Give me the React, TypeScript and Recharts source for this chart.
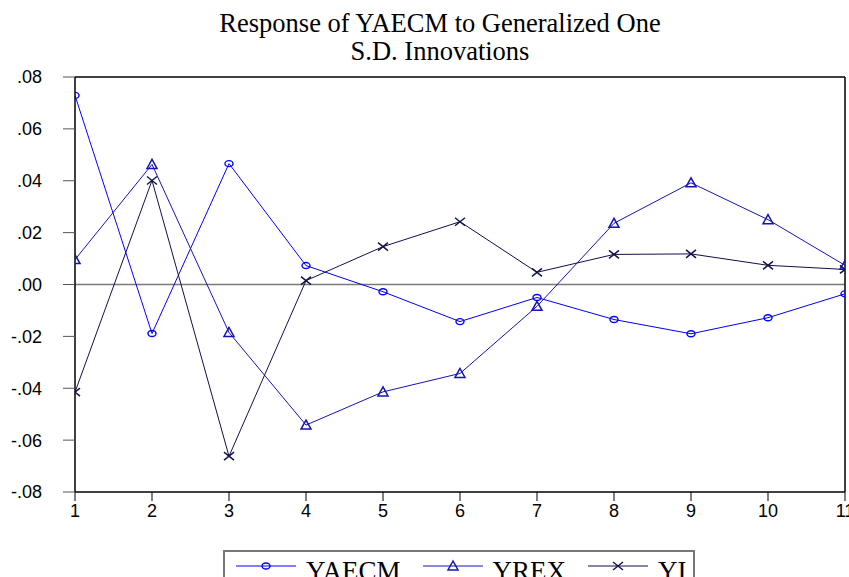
import React from 'react';
import { LineChart, Line, XAxis, YAxis, ReferenceLine } from 'recharts';

const periods = [1, 2, 3, 4, 5, 6, 7, 8, 9, 10, 11];
const yaecm = [0.0729, -0.0189, 0.0466, 0.0073, -0.0028, -0.0143, -0.005, -0.0135, -0.019, -0.0128, -0.0036];
const yrex = [0.0096, 0.0463, -0.0185, -0.0542, -0.0414, -0.0343, -0.0084, 0.0236, 0.0392, 0.025, 0.0074];
const yi = [-0.0415, 0.0401, -0.0662, 0.0015, 0.0146, 0.0242, 0.0047, 0.0116, 0.0118, 0.0074, 0.0058];
const yTicks = [-0.08, -0.06, -0.04, -0.02, 0, 0.02, 0.04, 0.06, 0.08];
const titleLines = ['Response of YAECM to Generalized One', 'S.D. Innovations'];

const seriesNames = ['YAECM', 'YREX', 'YI'];
const seriesColors = ['#0000FF', '#1414B4', '#10104A'];
const seriesMarkers = ['circle', 'triangle', 'cross'];

const data = periods.map((p, i) => ({ period: p, YAECM: yaecm[i], YREX: yrex[i], YI: yi[i] }));

const fmt = (v: number) => {
  if (Math.abs(v) < 1e-9) return '.00';
  const s = Math.abs(v).toFixed(2).replace(/^0/, '');
  return (v < 0 ? '-' : '') + s;
};

const Marker = ({ kind, cx, cy, color }: { kind: string; cx: number; cy: number; color: string }) => {
  if (kind === 'circle') {
    return <ellipse cx={cx} cy={cy} rx={4} ry={3} fill="none" stroke={color} strokeWidth={1.4} />;
  }
  if (kind === 'triangle') {
    return (
      <polygon
        points={`${cx},${cy - 5} ${cx - 5},${cy + 4} ${cx + 5},${cy + 4}`}
        fill="none"
        stroke={color}
        strokeWidth={1.5}
      />
    );
  }
  return (
    <g stroke={color} strokeWidth={1.5}>
      <line x1={cx - 5} y1={cy - 4} x2={cx + 5} y2={cy + 4} />
      <line x1={cx - 5} y1={cy + 4} x2={cx + 5} y2={cy - 4} />
    </g>
  );
};

const makeDot = (kind: string, color: string) => (props: any) => {
  const { cx, cy, index } = props;
  if (cx == null || cy == null) return <g key={index} />;
  return <Marker key={index} kind={kind} cx={cx} cy={cy} color={color} />;
};

export default function App() {
  return (
    <div style={{ position: 'absolute', left: 0, top: 0, width: 849, height: 577, background: '#fff', overflow: 'hidden' }}>
      <div
        style={{
          position: 'absolute',
          left: 190,
          width: 500,
          top: 9,
          textAlign: 'center',
          fontFamily: '"Liberation Serif", "Times New Roman", serif',
          fontSize: 26.5,
          lineHeight: '28px',
          color: '#000',
          whiteSpace: 'nowrap',
        }}
      >
        {titleLines.map((t) => (
          <div key={t}>{t}</div>
        ))}
      </div>
      <LineChart width={849} height={577} data={data} margin={{ top: 77, right: 4, bottom: 55, left: 0 }}>
        <XAxis
          dataKey="period"
          type="number"
          domain={[1, 11]}
          ticks={periods}
          allowDataOverflow
          height={30}
          tickSize={9}
          tickMargin={3}
          axisLine={{ stroke: '#000', strokeWidth: 1.5 }}
          tickLine={{ stroke: '#000', strokeWidth: 1 }}
          tick={{ fill: '#000', fontSize: 18, fontFamily: '"Liberation Sans", Arial, sans-serif' }}
          interval={0}
        />
        <YAxis
          type="number"
          domain={[-0.08, 0.08]}
          ticks={yTicks}
          allowDataOverflow
          width={75}
          tickSize={12}
          tickMargin={21}
          tickFormatter={fmt}
          axisLine={{ stroke: '#000', strokeWidth: 1.5 }}
          tickLine={{ stroke: '#555', strokeWidth: 1 }}
          tick={{ fill: '#000', fontSize: 18, fontFamily: '"Liberation Sans", Arial, sans-serif' }}
          interval={0}
        />
        <ReferenceLine y={0} stroke="#7a7a7a" strokeWidth={1.6} />
        <ReferenceLine y={0.08} stroke="#000" strokeWidth={1.5} />
        <ReferenceLine x={11} stroke="#000" strokeWidth={1.5} />
        {seriesNames.map((name, i) => (
          <Line
            key={name}
            dataKey={name}
            type="linear"
            stroke={seriesColors[i]}
            strokeWidth={1}
            dot={makeDot(seriesMarkers[i], seriesColors[i])}
            activeDot={false}
            isAnimationActive={false}
          />
        ))}
      </LineChart>
      <div
        style={{
          position: 'absolute',
          left: 223,
          top: 550,
          width: 472,
          height: 40,
          border: '2px solid #777',
          boxSizing: 'border-box',
          display: 'flex',
          alignItems: 'flex-start',
          paddingLeft: 11,
          fontFamily: '"Liberation Serif", "Times New Roman", serif',
          fontSize: 27,
          lineHeight: '30px',
          color: '#000',
          whiteSpace: 'nowrap',
        }}
      >
        {seriesNames.map((name, i) => (
          <div key={name} style={{ display: 'flex', alignItems: 'flex-start', marginRight: i < 2 ? 22 : 0 }}>
            <svg width={62} height={30} style={{ marginRight: 8 }}>
              <line x1={0} y1={14} x2={60} y2={14} stroke={seriesColors[i]} strokeWidth={1} />
              <Marker kind={seriesMarkers[i]} cx={30} cy={14} color={seriesColors[i]} />
            </svg>
            <span style={{ marginTop: 4 }}>{name}</span>
          </div>
        ))}
      </div>
    </div>
  );
}
